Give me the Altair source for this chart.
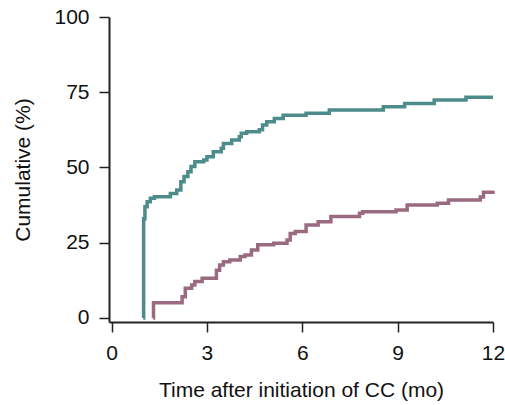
import altair as alt
import pandas as pd

# Teal group (step times in months, cumulative %)
teal_t = [1.00, 1.01, 1.05, 1.12, 1.22, 1.35, 1.85, 2.05, 2.18, 2.28, 2.40, 2.50,
          2.62, 2.90, 3.00, 3.20, 3.45, 3.52, 3.78, 4.02, 4.08, 4.25, 4.65, 4.75,
          4.88, 5.12, 5.40, 6.12, 6.85, 8.55, 9.22, 10.15, 11.15, 12.0]
teal_v = [0, 33.0, 37.0, 38.6, 39.8, 40.3, 41.4, 42.5, 45.3, 47.0, 48.6, 50.3,
          51.9, 52.5, 53.6, 55.2, 56.4, 58.0, 59.1, 60.2, 61.4, 61.9, 62.5, 64.1,
          65.2, 66.3, 67.4, 68.0, 69.1, 70.2, 71.3, 72.4, 73.3, 73.3]

# Purple group
purple_t = [1.31, 1.32, 2.22, 2.32, 2.52, 2.62, 2.85, 3.30, 3.40, 3.52, 3.72, 4.05,
            4.20, 4.40, 4.60, 5.10, 5.52, 5.62, 5.78, 6.12, 6.50, 6.90, 7.80, 7.90,
            8.95, 9.30, 10.25, 10.60, 11.60, 11.70, 12.0]
purple_v = [0, 5.1, 7.1, 9.9, 11.0, 12.1, 13.2, 15.9, 17.6, 18.7, 19.3, 20.4,
            20.9, 22.6, 24.3, 24.8, 25.9, 28.1, 28.7, 30.9, 32.0, 33.7, 34.8, 35.3,
            35.9, 37.5, 38.1, 39.2, 40.2, 41.8, 42.3]

groups = ["A", "B"]
colors = ["#4E8B8B", "#9A6A80"]

df = pd.concat([
    pd.DataFrame({"t": teal_t, "v": teal_v, "g": groups[0], "o": range(len(teal_t))}),
    pd.DataFrame({"t": purple_t, "v": purple_v, "g": groups[1], "o": range(len(purple_t))}),
])

font = "Liberation Sans"

chart = alt.Chart(df).mark_line(interpolate="step-after", strokeWidth=3.5, strokeCap="butt").encode(
    x=alt.X("t:Q", scale=alt.Scale(domain=[-0.08, 12], nice=False, zero=False),
            axis=alt.Axis(values=[0, 3, 6, 9, 12], title="Time after initiation of CC (mo)",
                          grid=False, tickSize=10, labelPadding=10, titlePadding=16,
                          labelFontSize=21, titleFontSize=21, labelFont=font, titleFont=font,
                          titleFontWeight="normal", domainColor="#222", domainWidth=2,
                          tickColor="#222", tickWidth=1.5, labelColor="#111", titleColor="#111",
                          labelFlush=False)),
    y=alt.Y("v:Q", scale=alt.Scale(domain=[-1.33, 100], nice=False, zero=False),
            axis=alt.Axis(values=[0, 25, 50, 75, 100], title="Cumulative (%)",
                          grid=False, tickSize=10, labelPadding=10, titlePadding=20,
                          labelFontSize=21, titleFontSize=21, labelFont=font, titleFont=font,
                          titleFontWeight="normal", domainColor="#222", domainWidth=2,
                          tickColor="#222", tickWidth=1.5, labelColor="#111", titleColor="#111",
                          labelFlush=False)),
    color=alt.Color("g:N", scale=alt.Scale(domain=groups, range=colors), legend=None),
    order="o:Q",
).properties(
    width=384, height=305,
    autosize=alt.AutoSizeParams(type="none"),
    padding={"left": 109, "top": 17, "right": 12, "bottom": 83},
).configure_view(stroke=None)

chart.save("out.html", embed_options={"renderer": "svg", "actions": False})
